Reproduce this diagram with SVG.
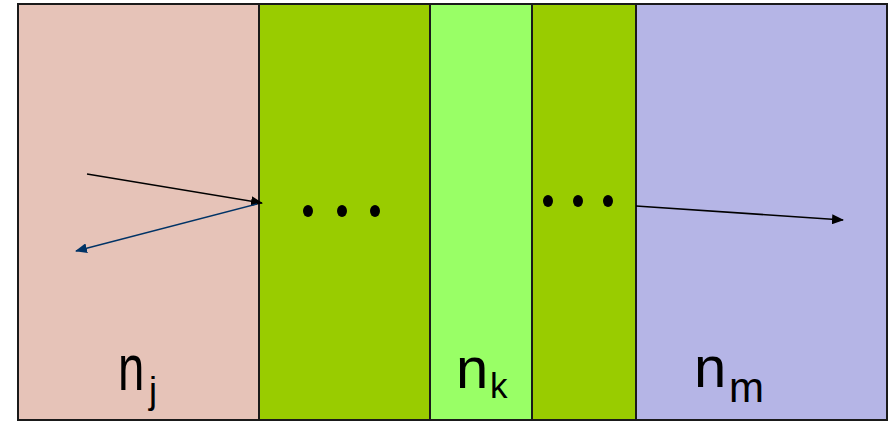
<svg xmlns="http://www.w3.org/2000/svg" width="896" height="422" viewBox="0 0 896 422">
  <style>
    .panel { stroke: #1a1a1a; stroke-width: 2; }
    .lbl { font-family: "Liberation Sans", Arial, sans-serif; fill: #000; }
    .dot { fill: #000; }
    .ray { fill: none; stroke-width: 1.6; }
  </style>
  <defs>
    <marker id="headBlack" viewBox="0 0 12 10" refX="11" refY="5" markerWidth="12" markerHeight="10" markerUnits="userSpaceOnUse" orient="auto">
      <path d="M0,0 L12,5 L0,10 Z" fill="#000"/>
    </marker>
    <marker id="headBlue" viewBox="0 0 12 10" refX="11" refY="5" markerWidth="12" markerHeight="10" markerUnits="userSpaceOnUse" orient="auto">
      <path d="M0,0 L12,5 L0,10 Z" fill="#003366"/>
    </marker>
  </defs>

  <rect width="896" height="422" fill="#ffffff"/>

  <!-- layer n_j -->
  <g id="layer-nj">
    <rect class="panel" x="18" y="4" width="241" height="416" fill="#E6C3B8"/>
    <text class="lbl" font-size="64" transform="translate(118,390) scale(0.74,1)">n</text>
    <text class="lbl" font-size="36" x="149" y="403">j</text>
  </g>

  <!-- intermediate layers (left) -->
  <g id="layer-mid-left">
    <rect class="panel" x="259" y="4" width="171" height="416" fill="#99CC00"/>
    <ellipse class="dot" cx="308" cy="211" rx="5" ry="6"/>
    <ellipse class="dot" cx="342" cy="211" rx="5" ry="6"/>
    <ellipse class="dot" cx="375" cy="211" rx="5" ry="6"/>
  </g>

  <!-- layer n_k -->
  <g id="layer-nk">
    <rect class="panel" x="430" y="4" width="102" height="416" fill="#99FF66"/>
    <text class="lbl" font-size="58" x="456" y="388">n</text>
    <text class="lbl" font-size="35" x="490" y="398">k</text>
  </g>

  <!-- intermediate layers (right) -->
  <g id="layer-mid-right">
    <rect class="panel" x="532" y="4" width="104" height="416" fill="#99CC00"/>
    <ellipse class="dot" cx="548" cy="201" rx="5" ry="6"/>
    <ellipse class="dot" cx="578" cy="201" rx="5" ry="6"/>
    <ellipse class="dot" cx="608" cy="201" rx="5" ry="6"/>
  </g>

  <!-- layer n_m -->
  <g id="layer-nm">
    <rect class="panel" x="636" y="4" width="251" height="416" fill="#B5B5E6"/>
    <text class="lbl" font-size="58" x="694" y="387">n</text>
    <text class="lbl" font-size="42" x="729" y="402">m</text>
  </g>

  <!-- rays: incident, reflected, transmitted -->
  <g id="connectors">
    <line class="ray" x1="87" y1="174" x2="262" y2="203" stroke="#000" marker-end="url(#headBlack)"/>
    <line class="ray" x1="257" y1="204" x2="76" y2="251" stroke="#003366" marker-end="url(#headBlue)"/>
    <line class="ray" x1="636" y1="206" x2="843" y2="220" stroke="#000" marker-end="url(#headBlack)"/>
  </g>
</svg>
